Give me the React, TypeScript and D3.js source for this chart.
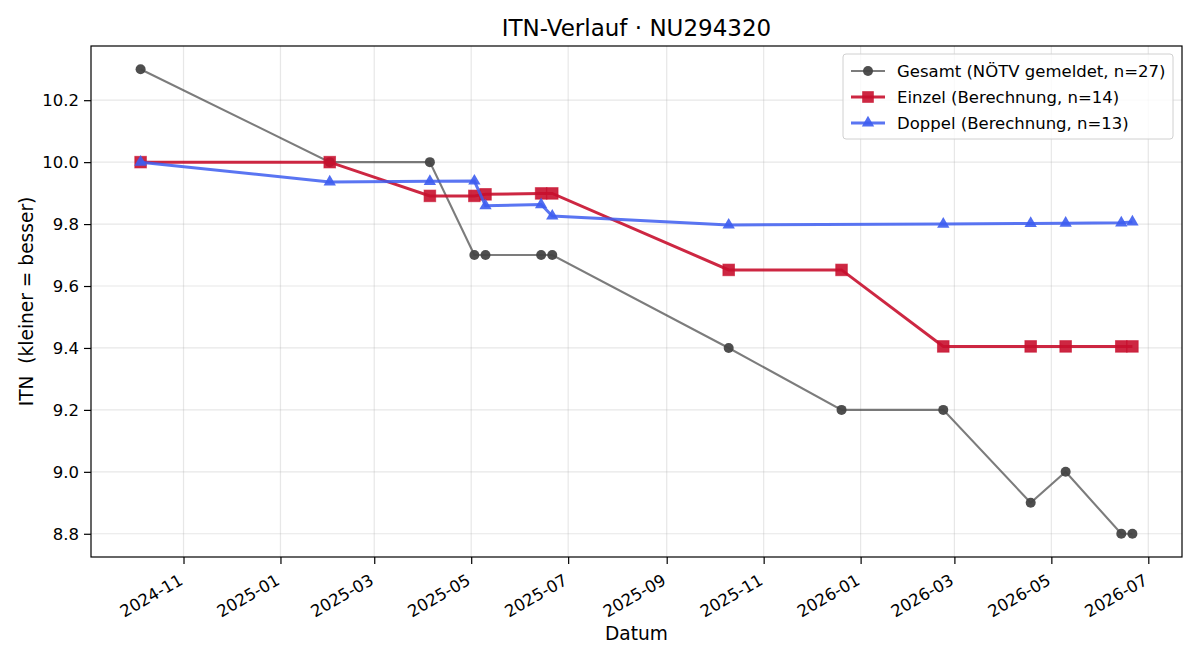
import React, { useRef, useEffect } from 'react';
import * as d3 from 'd3';

// Gesamt (reported ITN)
const gesamtDates = [
  '2024-10-05', '2025-02-01', '2025-04-05', '2025-05-03', '2025-05-10', '2025-06-14', '2025-06-21',
  '2025-10-10', '2025-12-20', '2026-02-22', '2026-04-18', '2026-05-10', '2026-06-14', '2026-06-21',
];
const gesamtValues = [10.3, 10.0, 10.0, 9.7, 9.7, 9.7, 9.7, 9.4, 9.2, 9.2, 8.9, 9.0, 8.8, 8.8];

// Einzel (computed)
const einzelDates = [
  '2024-10-05', '2025-02-01', '2025-04-05', '2025-05-03', '2025-05-10', '2025-06-14', '2025-06-21',
  '2025-10-10', '2025-12-20', '2026-02-22', '2026-04-18', '2026-05-10', '2026-06-14', '2026-06-21',
];
const einzelValues = [10.0, 10.0, 9.891, 9.891, 9.896, 9.899, 9.899, 9.652, 9.652, 9.405, 9.405, 9.405, 9.405, 9.405];

// Doppel (computed)
const doppelDates = [
  '2024-10-05', '2025-02-01', '2025-04-05', '2025-05-03', '2025-05-10', '2025-06-14', '2025-06-21',
  '2025-10-10', '2026-02-22', '2026-04-18', '2026-05-10', '2026-06-14', '2026-06-21',
];
const doppelValues = [10.0, 9.936, 9.938, 9.939, 9.859, 9.863, 9.826, 9.797, 9.8, 9.802, 9.803, 9.804, 9.807];

const yTicks = [8.8, 9.0, 9.2, 9.4, 9.6, 9.8, 10.0, 10.2];
const xTickDates = [
  '2024-11-01', '2025-01-01', '2025-03-01', '2025-05-01', '2025-07-01', '2025-09-01',
  '2025-11-01', '2026-01-01', '2026-03-01', '2026-05-01', '2026-07-01',
];

const legendLabels = [
  'Gesamt (NÖTV gemeldet, n=27)',
  'Einzel (Berechnung, n=14)',
  'Doppel (Berechnung, n=13)',
];

const W = 1200;
const H = 660;
const margin = { top: 46, right: 18, bottom: 103, left: 91 };
const font = 'DejaVu Sans, sans-serif';
const tickFs = 16.5;
const labelFs = 18.6;

const parse = d3.utcParse('%Y-%m-%d');

type Pt = { date: Date; value: number };
const zip = (dates: string[], values: number[]): Pt[] =>
  dates.map((d, i) => ({ date: parse(d)!, value: values[i] }));

const App: React.FC = () => {
  const svgRef = useRef<SVGSVGElement | null>(null);

  useEffect(() => {
    const svg = d3.select(svgRef.current);
    svg.selectAll('*').remove();

    const iw = W - margin.left - margin.right;
    const ih = H - margin.top - margin.bottom;

    const gesamt = zip(gesamtDates, gesamtValues);
    const einzel = zip(einzelDates, einzelValues);
    const doppel = zip(doppelDates, doppelValues);
    const all = [...gesamt, ...einzel, ...doppel];

    // 5% padding on both axes, like matplotlib's default margins
    const [t0, t1] = d3.extent(all, d => +d.date) as [number, number];
    const tPad = (t1 - t0) * 0.05;
    const x = d3.scaleUtc().domain([new Date(t0 - tPad), new Date(t1 + tPad)]).range([0, iw]);

    const [v0, v1] = d3.extent(all, d => d.value) as [number, number];
    const vPad = (v1 - v0) * 0.05;
    const y = d3.scaleLinear().domain([v0 - vPad, v1 + vPad]).range([ih, 0]);

    const g = svg.append('g').attr('transform', `translate(${margin.left},${margin.top})`);

    // grid
    const xTicks = xTickDates.map(d => parse(d)!);
    g.append('g')
      .selectAll('line')
      .data(xTicks)
      .enter()
      .append('line')
      .attr('x1', d => x(d))
      .attr('x2', d => x(d))
      .attr('y1', 0)
      .attr('y2', ih)
      .attr('stroke', '#b0b0b0')
      .attr('stroke-opacity', 0.3)
      .attr('stroke-width', 1.2);
    g.append('g')
      .selectAll('line')
      .data(yTicks)
      .enter()
      .append('line')
      .attr('x1', 0)
      .attr('x2', iw)
      .attr('y1', d => y(d))
      .attr('y2', d => y(d))
      .attr('stroke', '#b0b0b0')
      .attr('stroke-opacity', 0.3)
      .attr('stroke-width', 1.2);

    // axes
    const xAxis = g
      .append('g')
      .attr('transform', `translate(0,${ih})`)
      .call(
        d3.axisBottom(x)
          .tickValues(xTicks)
          .tickFormat(d => d3.utcFormat('%Y-%m')(d as Date))
          .tickSize(7)
          .tickPadding(7)
      );
    xAxis.select('.domain').remove();
    xAxis.selectAll('.tick line').attr('stroke', '#000').attr('stroke-width', 1.2);
    xAxis
      .selectAll<SVGTextElement, Date>('.tick text')
      .attr('font-family', font)
      .attr('font-size', tickFs)
      .attr('fill', '#000')
      .attr('text-anchor', 'end')
      .attr('dy', null)
      .attr('y', 0)
      .attr('transform', 'translate(-6,16) rotate(-30)')
      .attr('dominant-baseline', 'hanging');

    const yAxis = g.append('g').call(
      d3.axisLeft(y)
        .tickValues(yTicks)
        .tickFormat(d => d3.format('.1f')(d as number))
        .tickSize(7)
        .tickPadding(5)
    );
    yAxis.select('.domain').remove();
    yAxis.selectAll('.tick line').attr('stroke', '#000').attr('stroke-width', 1.2);
    yAxis
      .selectAll('.tick text')
      .attr('font-family', font)
      .attr('font-size', tickFs)
      .attr('fill', '#000');

    g.append('rect')
      .attr('width', iw)
      .attr('height', ih)
      .attr('fill', 'none')
      .attr('stroke', '#000')
      .attr('stroke-width', 1.2);

    // series
    const line = d3
      .line<Pt>()
      .x(d => x(d.date))
      .y(d => y(d.value));

    const gColor = '#444444';
    const eColor = '#c8102e';
    const dColor = '#3d5df0';

    g.append('path')
      .datum(gesamt)
      .attr('d', line)
      .attr('fill', 'none')
      .attr('stroke', gColor)
      .attr('stroke-opacity', 0.7)
      .attr('stroke-width', 2.1);
    g.append('g')
      .selectAll('circle')
      .data(gesamt)
      .enter()
      .append('circle')
      .attr('cx', d => x(d.date))
      .attr('cy', d => y(d.value))
      .attr('r', 5)
      .attr('fill', gColor)
      .attr('fill-opacity', 0.95);

    g.append('path')
      .datum(einzel)
      .attr('d', line)
      .attr('fill', 'none')
      .attr('stroke', eColor)
      .attr('stroke-opacity', 0.9)
      .attr('stroke-width', 3);
    g.append('g')
      .selectAll('rect')
      .data(einzel)
      .enter()
      .append('rect')
      .attr('x', d => x(d.date) - 5.8)
      .attr('y', d => y(d.value) - 5.8)
      .attr('width', 11.6)
      .attr('height', 11.6)
      .attr('fill', eColor)
      .attr('fill-opacity', 0.9)
      .attr('stroke', eColor)
      .attr('stroke-opacity', 0.6)
      .attr('stroke-width', 1);

    const tri = d3.symbol().type(d3.symbolTriangle).size(66);
    g.append('path')
      .datum(doppel)
      .attr('d', line)
      .attr('fill', 'none')
      .attr('stroke', dColor)
      .attr('stroke-opacity', 0.85)
      .attr('stroke-width', 3);
    g.append('g')
      .selectAll('path')
      .data(doppel)
      .enter()
      .append('path')
      .attr('d', tri()!)
      .attr('transform', d => `translate(${x(d.date)},${y(d.value)})`)
      .attr('fill', dColor)
      .attr('fill-opacity', 0.9);

    // titles
    svg.append('text')
      .attr('x', margin.left + iw / 2)
      .attr('y', 36)
      .attr('text-anchor', 'middle')
      .attr('font-family', font)
      .attr('font-size', 23)
      .text('ITN-Verlauf · NU294320');

    svg.append('text')
      .attr('x', margin.left + iw / 2)
      .attr('y', 640)
      .attr('text-anchor', 'middle')
      .attr('font-family', font)
      .attr('font-size', labelFs)
      .text('Datum');

    svg.append('text')
      .attr('transform', `translate(33,${margin.top + ih / 2}) rotate(-90)`)
      .attr('text-anchor', 'middle')
      .attr('font-family', font)
      .attr('font-size', labelFs)
      .text('ITN  (kleiner = besser)')
      .style('white-space', 'pre');

    // legend
    const lg = svg.append('g').attr('transform', `translate(843,54)`);
    lg.append('rect')
      .attr('width', 330)
      .attr('height', 85)
      .attr('rx', 3)
      .attr('fill', '#fff')
      .attr('fill-opacity', 0.8)
      .attr('stroke', '#d0d0d0');

    const styles = [
      { color: gColor, lo: 0.7, lw: 2.1, shape: 'circle' },
      { color: eColor, lo: 0.9, lw: 3, shape: 'square' },
      { color: dColor, lo: 0.85, lw: 3, shape: 'triangle' },
    ];
    legendLabels.forEach((label, i) => {
      const s = styles[i];
      const row = lg.append('g').attr('transform', `translate(0,${17 + i * 26})`);
      row.append('line')
        .attr('x1', 8)
        .attr('x2', 42)
        .attr('stroke', s.color)
        .attr('stroke-opacity', s.lo)
        .attr('stroke-width', s.lw);
      if (s.shape === 'circle') {
        row.append('circle').attr('cx', 25).attr('r', 5).attr('fill', s.color).attr('fill-opacity', 0.95);
      } else if (s.shape === 'square') {
        row.append('rect')
          .attr('x', 19.2)
          .attr('y', -5.8)
          .attr('width', 11.6)
          .attr('height', 11.6)
          .attr('fill', s.color)
          .attr('fill-opacity', 0.9);
      } else {
        row.append('path')
          .attr('d', tri()!)
          .attr('transform', 'translate(25,0)')
          .attr('fill', s.color)
          .attr('fill-opacity', 0.9);
      }
      row.append('text')
        .attr('x', 54)
        .attr('dy', '0.35em')
        .attr('font-family', font)
        .attr('font-size', 16.5)
        .text(label);
    });
  }, []);

  return <svg ref={svgRef} width={W} height={H} style={{ display: 'block', position: 'absolute', left: 0, top: 0 }} />;
};

export default App;
